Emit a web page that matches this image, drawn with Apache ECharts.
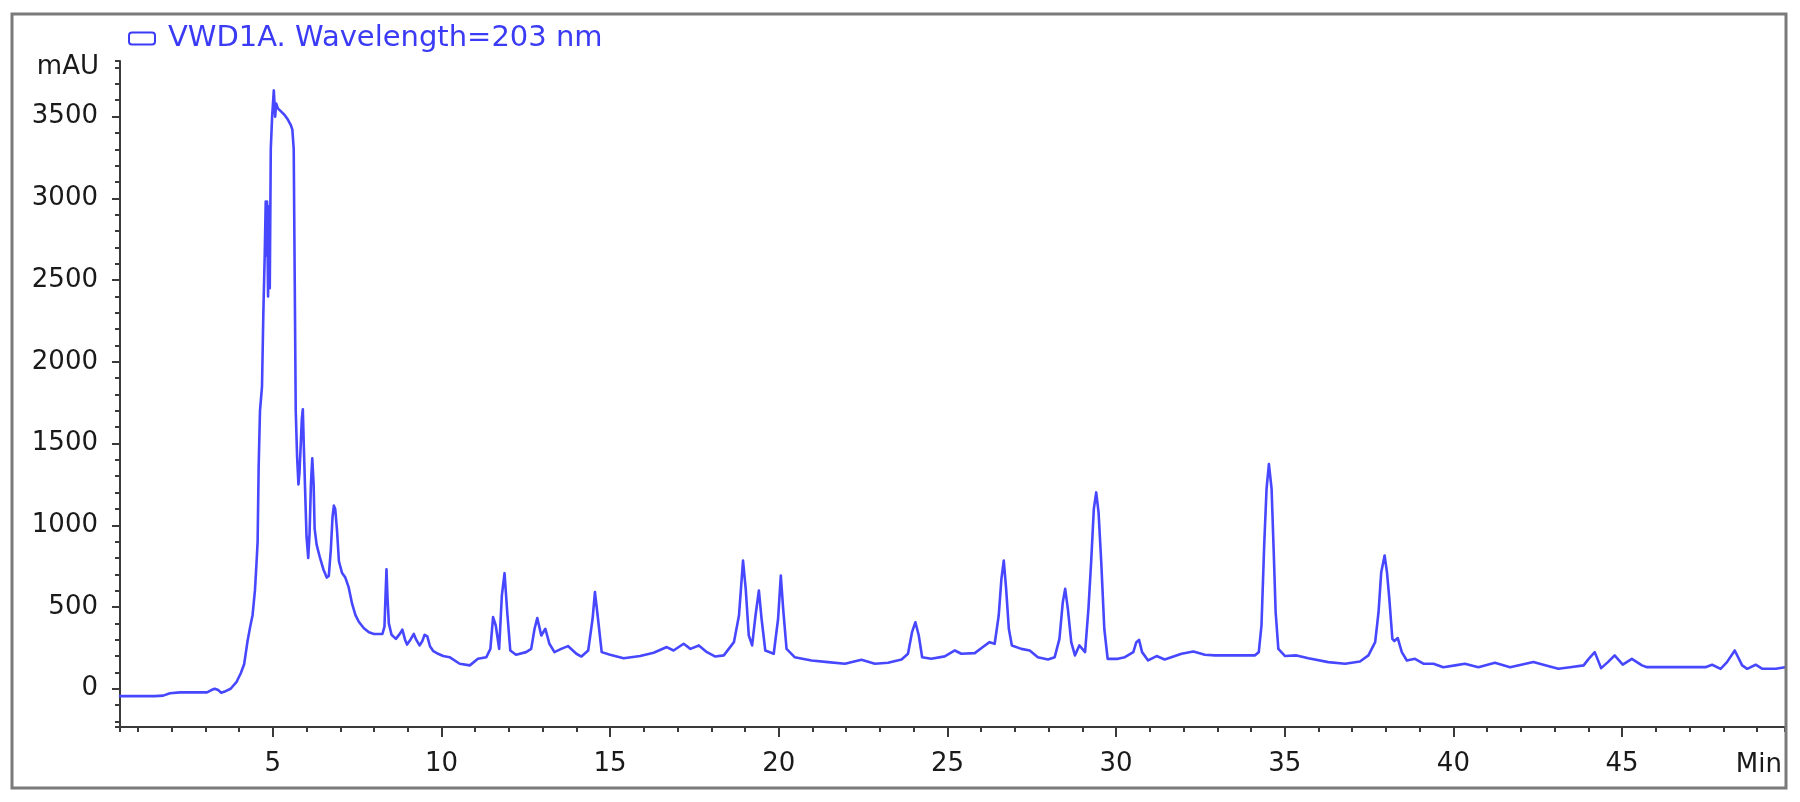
<!DOCTYPE html>
<html>
<head>
<meta charset="utf-8">
<script src="https://cdn.jsdelivr.net/npm/echarts@6/dist/echarts.min.js"></script>
<style>
html,body{margin:0;padding:0;background:#fff;}
#chart{width:1800px;height:802px;}
</style>
</head>
<body>
<div id="chart"></div>
<script>
// ---- data: [retention time (min), signal (mAU)] ----
const seriesName = 'VWD1A. Wavelength=203 nm';
const yUnit = 'mAU';
const xUnit = 'Min';

const baselineStart = [[0.47,-45],[1.0,-45],[1.5,-45],[1.75,-42],[1.95,-28],[2.25,-22],[2.7,-22],[3.05,-22],[3.18,-8],[3.28,0],[3.38,-8],[3.47,-24],[3.6,-15],[3.75,0],[3.92,40],[4.05,95],[4.15,150],[4.25,290],[4.33,380],[4.4,450],[4.47,600]];

const mainPeak = [[4.52,780],[4.55,900],[4.58,1350],[4.62,1700],[4.68,1850],[4.72,2300],[4.76,2650],[4.79,2980],[4.81,2650],[4.83,2980],[4.86,2400],[4.88,2950],[4.91,2450],[4.94,3300],[4.98,3500],[5.03,3660],[5.07,3500],[5.1,3580],[5.15,3550],[5.25,3530],[5.35,3510],[5.45,3480],[5.53,3450],[5.58,3420],[5.62,3300],[5.65,2500],[5.68,1700],[5.72,1420],[5.76,1250],[5.79,1320],[5.83,1500],[5.86,1650],[5.89,1710],[5.92,1480],[5.96,1200],[6.0,930],[6.05,800],[6.09,950],[6.13,1250],[6.17,1410],[6.21,1250],[6.24,980],[6.3,880]];

const tail6to10 = [[6.4,800],[6.5,730],[6.6,680],[6.66,690],[6.72,850],[6.77,1050],[6.81,1120],[6.85,1100],[6.9,980],[6.96,780],[7.05,710],[7.15,680],[7.25,620],[7.35,520],[7.45,450],[7.55,410],[7.7,370],[7.85,345],[8.0,335],[8.25,335],[8.31,380],[8.34,560],[8.37,730],[8.4,560],[8.44,400],[8.52,330],[8.65,305],[8.78,340],[8.84,362],[8.92,300],[8.98,270],[9.08,300],[9.18,335],[9.25,300],[9.35,265],[9.43,290],[9.5,330],[9.58,320],[9.66,260],[9.76,230],[9.9,214],[10.05,200]];

const seg10to20 = [[10.24,193],[10.54,153],[10.84,143],[11.08,183],[11.33,193],[11.45,244],[11.53,438],[11.61,387],[11.71,244],[11.79,570],[11.87,707],[11.95,468],[12.04,234],[12.21,208],[12.51,224],[12.66,244],[12.76,367],[12.84,432],[12.96,326],[13.08,367],[13.2,275],[13.35,224],[13.55,244],[13.75,261],[14.0,214],[14.15,197],[14.35,234],[14.48,428],[14.55,591],[14.63,448],[14.75,224],[15.0,208],[15.4,187],[15.89,200],[16.29,220],[16.68,255],[16.88,234],[17.18,275],[17.38,244],[17.63,265],[17.87,224],[18.12,197],[18.37,204],[18.67,285],[18.82,448],[18.94,784],[19.02,611],[19.11,326],[19.21,265],[19.31,448],[19.41,601],[19.49,428],[19.6,234],[19.85,214]];

const seg20to30 = [[19.98,428],[20.06,692],[20.13,489],[20.23,244],[20.47,193],[20.97,173],[21.46,163],[21.96,153],[22.45,177],[22.85,153],[23.24,159],[23.64,179],[23.83,214],[23.95,346],[24.05,407],[24.15,326],[24.25,193],[24.52,183],[24.92,198],[25.22,234],[25.41,214],[25.81,218],[26.05,255],[26.25,285],[26.4,275],[26.52,448],[26.6,672],[26.67,784],[26.74,611],[26.82,367],[26.91,265],[27.19,244],[27.44,234],[27.68,193],[27.98,179],[28.18,193],[28.32,305],[28.42,530],[28.49,611],[28.57,489],[28.67,285],[28.78,204],[28.91,265],[29.08,224],[29.18,489],[29.26,774],[29.34,1100],[29.41,1201],[29.48,1079],[29.56,774],[29.65,367],[29.75,183],[30.05,183]];

const seg30to40 = [[30.26,193],[30.51,224],[30.6,285],[30.68,299],[30.77,224],[30.95,173],[31.2,200],[31.44,179],[31.94,214],[32.29,228],[32.63,208],[32.93,204],[34.11,204],[34.23,224],[34.31,387],[34.39,876],[34.46,1222],[34.53,1374],[34.61,1222],[34.67,855],[34.73,468],[34.81,244],[35.01,200],[35.35,204],[35.7,187],[36.29,163],[36.79,153],[37.23,167],[37.48,204],[37.68,285],[37.78,468],[37.86,713],[37.96,815],[38.03,713],[38.1,550],[38.19,305],[38.25,292],[38.35,310],[38.47,224],[38.62,173],[38.86,183],[39.11,153],[39.41,153],[39.7,132]];

const seg40to50 = [[40.05,143],[40.34,153],[40.74,132],[41.23,159],[41.68,132],[42.37,163],[42.72,143],[43.11,122],[43.46,132],[43.86,143],[44.01,183],[44.19,224],[44.38,126],[44.58,163],[44.78,204],[45.02,147],[45.29,183],[45.59,143],[45.74,132],[47.47,132],[47.67,147],[47.92,122],[48.11,163],[48.34,234],[48.56,143],[48.71,122],[48.96,147],[49.16,122],[49.56,122],[49.83,132]];

const signal = [].concat(baselineStart, mainPeak, tail6to10, seg10to20, seg20to30, seg30to40, seg40to50);

const xRange = [0.47, 49.83];
const yRange = [-234, 3840];
const xMajorStep = 5, xMinorStep = 1;
const yMajorStep = 500, yMinorStep = 100;

// ---- styles ----
const FONT = 'DejaVu Sans';
const AXIS_COLOR = '#3a3a3a';
const LINE_COLOR = '#4747ff';
const LEGEND_COLOR = '#3b3bf5';

const chart = echarts.init(document.getElementById('chart'), null, {renderer: 'canvas'});

const noLabel = {show: false};
const option = {
  animation: false,
  backgroundColor: '#ffffff',
  textStyle: {fontFamily: FONT},
  grid: {left: 120, right: 15, top: 61, bottom: 75, containLabel: false, outerBoundsMode: 'none'},
  legend: {
    data: [seriesName],
    left: 123, top: 19,
    icon: 'roundRect',
    itemWidth: 26, itemHeight: 12,
    itemStyle: {color: '#ffffff', borderColor: LEGEND_COLOR, borderWidth: 2},
    textStyle: {color: LEGEND_COLOR, fontSize: 29, fontFamily: FONT, padding: [0, 0, 0, 8]},
    selectedMode: false
  },
  xAxis: [
    {
      type: 'value', min: xRange[0], max: xRange[1],
      minInterval: xMajorStep, maxInterval: xMajorStep,
      position: 'bottom',
      name: xUnit, nameLocation: 'end', nameGap: -3,
      nameTextStyle: {fontSize: 26, color: '#1a1a1a', fontFamily: FONT, align: 'right', verticalAlign: 'top', padding: [25, 0, 0, 0]},
      axisLine: {show: true, onZero: false, lineStyle: {color: AXIS_COLOR, width: 2}},
      axisTick: {show: true, length: 10, lineStyle: {color: AXIS_COLOR, width: 2}},
      axisLabel: {show: true, margin: 24, fontSize: 26, color: '#1a1a1a', fontFamily: FONT, showMinLabel: false, showMaxLabel: false,
        formatter: v => String(Math.round(v))},
      splitLine: {show: false}
    },
    {
      type: 'value', min: xRange[0], max: xRange[1],
      minInterval: xMinorStep, maxInterval: xMinorStep,
      position: 'bottom',
      axisLine: {show: false, onZero: false},
      axisTick: {show: true, length: 5, lineStyle: {color: AXIS_COLOR, width: 2}},
      axisLabel: noLabel,
      splitLine: {show: false}
    }
  ],
  yAxis: [
    {
      type: 'value', min: yRange[0], max: yRange[1],
      minInterval: yMajorStep, maxInterval: yMajorStep,
      position: 'left',
      name: yUnit, nameLocation: 'end', nameGap: -6,
      nameTextStyle: {fontSize: 26, color: '#1a1a1a', fontFamily: FONT, align: 'right', verticalAlign: 'middle', padding: [0, 21, 0, 0]},
      axisLine: {show: true, onZero: false, lineStyle: {color: AXIS_COLOR, width: 2}},
      axisTick: {show: true, length: 8, lineStyle: {color: AXIS_COLOR, width: 2}},
      axisLabel: {show: true, margin: 22, fontSize: 26, color: '#1a1a1a', fontFamily: FONT, showMinLabel: false, showMaxLabel: false,
        formatter: v => String(Math.round(v))},
      splitLine: {show: false}
    },
    {
      type: 'value', min: yRange[0], max: yRange[1],
      minInterval: yMinorStep, maxInterval: yMinorStep,
      position: 'left',
      axisLine: {show: false, onZero: false},
      axisTick: {show: true, length: 5, lineStyle: {color: AXIS_COLOR, width: 2}},
      axisLabel: noLabel,
      splitLine: {show: false}
    }
  ],
  series: [{
    name: seriesName,
    type: 'line',
    xAxisIndex: 0, yAxisIndex: 0,
    data: signal,
    showSymbol: false,
    symbol: 'none',
    smooth: false,
    lineStyle: {color: LINE_COLOR, width: 2.6, join: 'round', cap: 'round'},
    itemStyle: {color: LINE_COLOR},
    clip: true
  }],
  graphic: [{
    type: 'rect', silent: true, z: 100,
    shape: {x: 12, y: 14, width: 1774, height: 774},
    style: {fill: 'none', stroke: '#7a7a7a', lineWidth: 3}
  }]
};
chart.setOption(option);
</script>
</body>
</html>
